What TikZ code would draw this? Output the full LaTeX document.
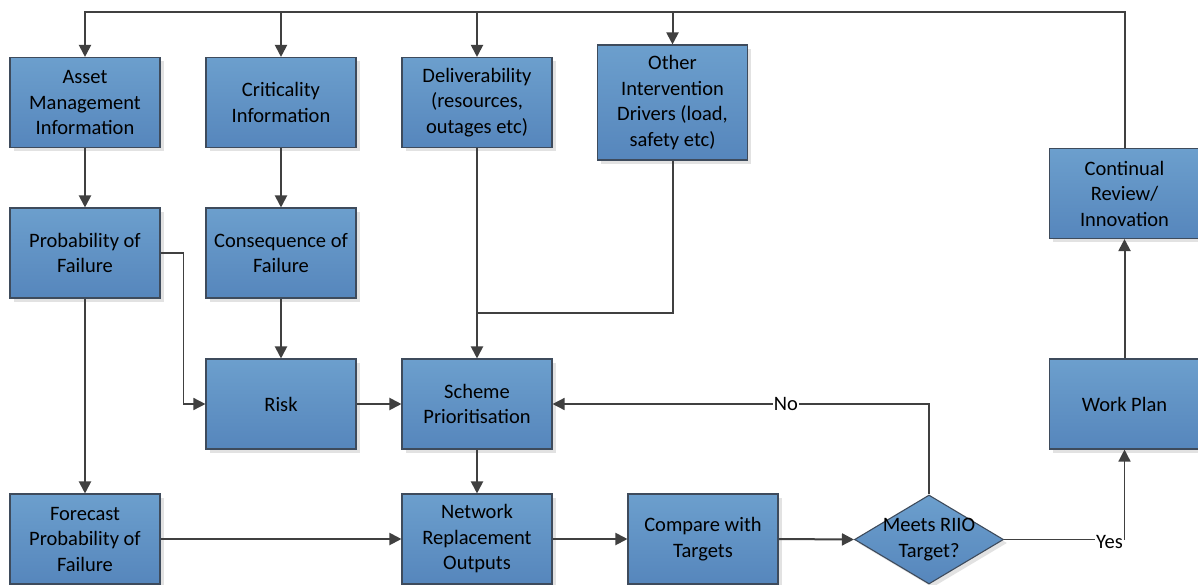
\documentclass[tikz,border=0pt]{standalone}
\usepackage{fontspec}
\setmainfont{Carlito}
\usetikzlibrary{arrows.meta,shapes.geometric,shadows}

\definecolor{boxtop}{HTML}{6C9FCD}
\definecolor{boxbot}{HTML}{5686BC}
\definecolor{boxline}{HTML}{3E4B5C}
\definecolor{wire}{HTML}{404040}
\definecolor{shade}{HTML}{E2E2E2}

\tikzset{
  procbox/.style={rectangle, draw=boxline, line width=1.1pt,
    top color=boxtop, bottom color=boxbot,
    drop shadow={shadow xshift=3.5pt, shadow yshift=-3.5pt, fill=shade, opacity=1},
    minimum width=150pt, minimum height=90pt, inner sep=0pt,
    align=center, font=\fontsize{20.5}{25.5}\selectfont},
  decision/.style={diamond, draw=boxline, line width=1.1pt,
    top color=boxtop, bottom color=boxbot,
    drop shadow={shadow xshift=3.5pt, shadow yshift=-3.5pt, fill=shade, opacity=1},
    minimum width=149pt, minimum height=89pt, inner sep=0pt},
  boxtext/.style={align=center, font=\fontsize{20.5}{25.5}\selectfont},
  flow/.style={draw=wire, line width=2pt, -{Triangle[length=12pt,width=12pt]}},
  link/.style={draw=wire, line width=2pt},
  thinflow/.style={draw=wire, line width=1.5pt, -{Triangle[length=12pt,width=12pt]}},
  edgelabel/.style={fill=white, inner sep=1pt, font=\fontsize{20.5}{24}\selectfont}
}

\begin{document}
\begin{tikzpicture}[x=1pt, y=-1pt]
  \useasboundingbox (0,0) rectangle (1198,584);
  \clip (0,0) rectangle (1198,584);
  \fill[white] (0,0) rectangle (1198,584);

  % process boxes
  \node[procbox] (asset)  at (85,102.5)   {Asset\\Management\\Information};
  \node[procbox] (crit)   at (281,102.5)  {Criticality\\Information};
  \node[procbox] (deliv)  at (477,102.5)  {Deliverability\\(resources,\\outages etc)};
  \node[procbox, minimum height=115pt] (other) at (672.5,102.5) {Other\\Intervention\\Drivers (load,\\safety etc)};
  \node[procbox] (review) at (1124.5,193.5) {Continual\\Review/\\Innovation};
  \node[procbox] (pof)    at (85,253)     {Probability of\\Failure};
  \node[procbox] (cof)    at (281,253)    {Consequence of\\Failure};
  \node[procbox] (risk)   at (281,404)    {Risk};
  \node[procbox] (scheme) at (477,404)    {Scheme\\Prioritisation};
  \node[procbox] (work)   at (1124.5,404) {Work Plan};
  \node[procbox] (fpof)   at (85,539)     {Forecast\\Probability of\\Failure};
  \node[procbox] (net)    at (477,539)    {Network\\Replacement\\Outputs};
  \node[procbox] (comp)   at (703,539)    {Compare with\\Targets};

  % decision
  \node[decision] (meet) at (929,539.5) {};
  \node[boxtext] at (meet) {Meets RIIO\\Target?};

  % feedback bus along the top
  \coordinate (bus) at (85,12);
  \draw[flow] (review.north) |- (bus) -- (asset.north);
  \draw[flow] (crit.north |- bus) -- (crit.north);
  \draw[flow] (deliv.north |- bus) -- (deliv.north);
  \draw[flow] (other.north |- bus) -- (other.north);

  % main flow
  \draw[flow] (asset.south) -- (pof.north);
  \draw[flow] (crit.south) -- (cof.north);
  \draw[flow] (pof.south) -- (fpof.north);
  \draw[thinflow] (pof.east) -- ++(23,0) |- (risk.west);
  \draw[flow] (cof.south) -- (risk.north);
  \draw[flow] (risk.east) -- (scheme.west);
  \coordinate (join) at (477,313);
  \draw[flow] (deliv.south) -- (scheme.north);
  \draw[link] (other.south) |- (join);
  \draw[flow] (scheme.south) -- (net.north);
  \draw[flow] (fpof.east) -- (net.west);
  \draw[flow] (net.east) -- (comp.west);
  \draw[flow] (comp.east) -- (meet.west);

  % decision outcomes
  \draw[thinflow] (meet.north) |- node[edgelabel, pos=0.69] {No} (scheme.east);
  \draw[thinflow] (meet.east) -| node[edgelabel, pos=0.5, anchor=east, yshift=-2pt] {Yes} (work.south);
  \draw[flow] (work.north) -- (review.south);
\end{tikzpicture}
\end{document}
